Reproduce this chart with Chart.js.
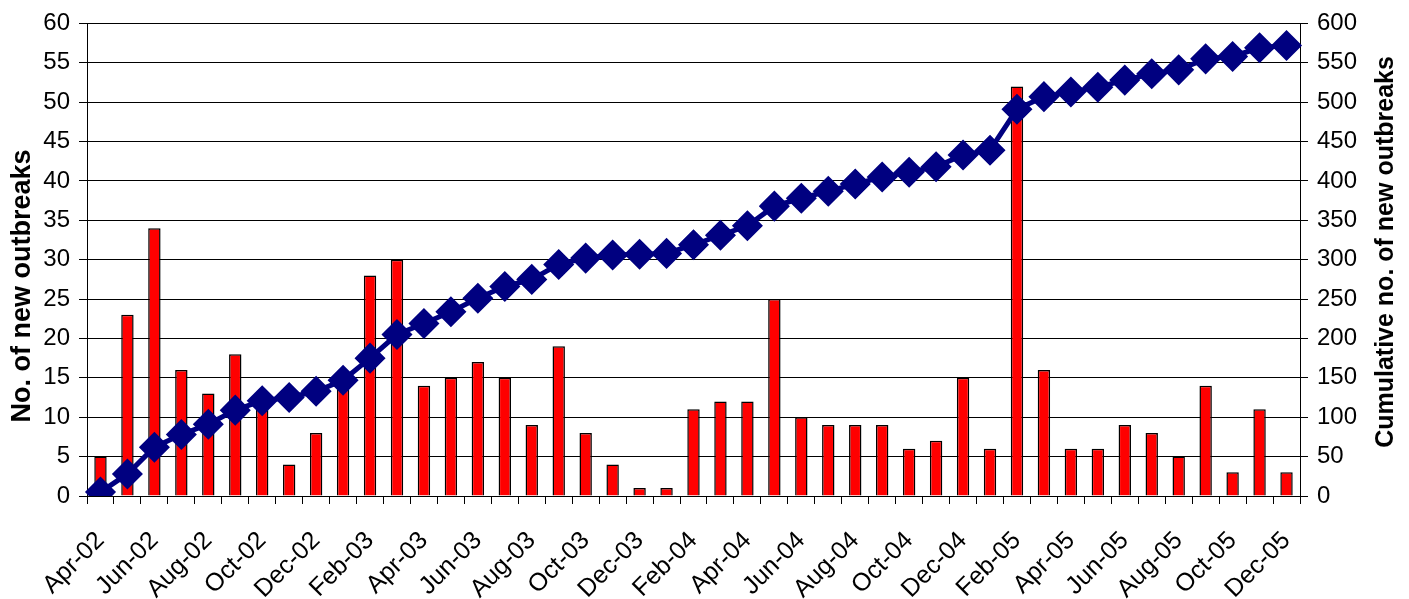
<!DOCTYPE html>
<html><head><meta charset="utf-8">
<script src="https://cdn.jsdelivr.net/npm/chart.js@4.4.0/dist/chart.umd.min.js"></script>
<style>html,body{margin:0;padding:0;background:#fff;overflow:hidden}</style>
</head><body>
<canvas id="c" width="1409" height="599"></canvas>
<script>
const months = ["Apr-02","May-02","Jun-02","Jul-02","Aug-02","Sep-02","Oct-02","Nov-02","Dec-02",
"Jan-03","Feb-03","Mar-03","Apr-03","May-03","Jun-03","Jul-03","Aug-03","Sep-03","Oct-03","Nov-03","Dec-03",
"Jan-04","Feb-04","Mar-04","Apr-04","May-04","Jun-04","Jul-04","Aug-04","Sep-04","Oct-04","Nov-04","Dec-04",
"Jan-05","Feb-05","Mar-05","Apr-05","May-05","Jun-05","Jul-05","Aug-05","Sep-05","Oct-05","Nov-05","Dec-05"];
const newOutbreaks = [5,23,34,16,13,18,12,4,8,14,28,30,14,15,17,15,9,19,8,4,1,1,11,12,12,25,10,9,9,9,6,7,15,6,52,16,6,6,9,8,5,14,3,11,3];
const cumulativeOutbreaks = [5,28,62,78,91,109,121,125,133,147,175,205,219,234,251,266,275,294,302,306,307,308,319,331,343,368,378,387,396,405,411,418,433,439,491,507,513,519,528,536,541,555,558,569,572];
const leftAxisTitle = "No. of new outbreaks";
const rightAxisTitle = "Cumulative no. of new outbreaks";

const FONT = "'Liberation Sans', Arial, sans-serif";

const axisTitlesPlugin = {
  id: 'axisTitles',
  afterDraw(chart) {
    const ctx = chart.ctx;
    ctx.save();
    ctx.fillStyle = '#000';
    ctx.textAlign = 'center';
    ctx.textBaseline = 'middle';
    ctx.font = "bold 27px " + FONT;
    ctx.save();
    ctx.translate(23, 286);
    ctx.rotate(-Math.PI / 2);
    ctx.fillText(leftAxisTitle, 0, 0);
    ctx.restore();
    ctx.font = "bold 25px " + FONT;
    ctx.translate(1386, 252);
    ctx.rotate(-Math.PI / 2);
    ctx.fillText(rightAxisTitle, 0, 0);
    ctx.restore();
  }
};

new Chart(document.getElementById('c'), {
  data: {
    labels: months,
    datasets: [
      {
        type: 'line', label: 'Cumulative', data: cumulativeOutbreaks, yAxisID: 'y2',
        borderColor: '#000080', backgroundColor: '#000080', borderWidth: 5,
        pointStyle: 'rectRot', pointRadius: 12, pointHoverRadius: 12,
        pointBackgroundColor: '#000080', pointBorderColor: '#000080', tension: 0, order: 0
      },
      {
        type: 'bar', label: 'New', data: newOutbreaks, yAxisID: 'y',
        backgroundColor: '#ff0000', borderColor: '#000000', borderWidth: 1.5,
        categoryPercentage: 1, barPercentage: 0.46, order: 1
      }
    ]
  },
  plugins: [axisTitlesPlugin],
  options: {
    responsive: false, animation: false,
    layout: { padding: { left: 0, right: 0, top: 8, bottom: 0 } },
    plugins: { legend: { display: false }, tooltip: { enabled: false } },
    scales: {
      x: {
        offset: true,
        afterFit(s) { s.height = 103; },
        grid: { display: true, drawOnChartArea: false, offset: true, color: '#000', tickLength: 8, lineWidth: 1 },
        border: { display: true, color: '#000', width: 1 },
        ticks: {
          autoSkip: false, maxRotation: 45, minRotation: 45, padding: 22,
          color: '#000', font: { family: FONT, size: 25 },
          callback: function(v, i) { return i % 2 === 0 ? months[i] : ''; }
        }
      },
      y: {
        position: 'left', min: 0, max: 60,
        afterFit(s) { s.width = 87; },
        ticks: { stepSize: 5, color: '#000', font: { family: FONT, size: 24 }, padding: 9 },
        grid: { color: '#000', lineWidth: 1, tickLength: 8 },
        border: { display: true, color: '#000', width: 1 }
      },
      y2: {
        position: 'right', min: 0, max: 600,
        afterFit(s) { s.width = 109; },
        ticks: { stepSize: 50, color: '#000', font: { family: FONT, size: 24 }, padding: 9 },
        grid: { drawOnChartArea: false, color: '#000', tickLength: 8 },
        border: { display: true, color: '#000', width: 1 }
      }
    }
  }
});
</script>
</body></html>
